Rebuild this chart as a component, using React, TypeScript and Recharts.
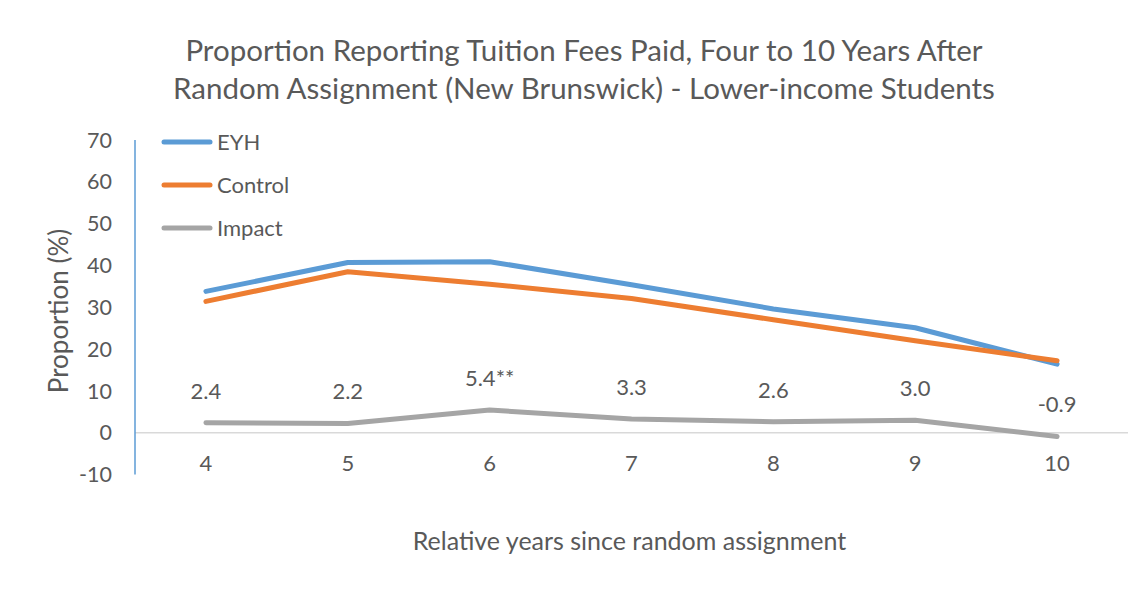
import React from 'react';
import { LineChart, Line, XAxis, YAxis, ReferenceLine, LabelList, Legend } from 'recharts';

const FONT = 'Lato, "Open Sans", sans-serif';
const TEXT = '#595959';

const years = [4, 5, 6, 7, 8, 9, 10];
const eyh = [33.8, 40.7, 40.9, 35.4, 29.6, 25.1, 16.4];
const control = [31.4, 38.5, 35.5, 32.1, 27.0, 22.0, 17.2];
const impact = [2.4, 2.2, 5.4, 3.3, 2.6, 3.0, -0.9];
const impactLabels = ['2.4', '2.2', '5.4**', '3.3', '2.6', '3.0', '-0.9'];
const yTicks = [-10, 0, 10, 20, 30, 40, 50, 60, 70];
const seriesNames = ['EYH', 'Control', 'Impact'];
const seriesColors = ['#5B9BD5', '#ED7D31', '#A5A5A5'];

const titleLines = [
  'Proportion Reporting Tuition Fees Paid, Four to 10 Years After',
  'Random Assignment (New Brunswick) - Lower-income Students',
];
const xTitle = 'Relative years since random assignment';
const yTitle = 'Proportion (%)';

const data = years.map((y, i) => ({
  year: y,
  eyh: eyh[i],
  control: control[i],
  impact: impact[i],
  impactLabel: impactLabels[i],
}));

const XTick = (props: any) => (
  <text
    x={props.x}
    y={props.y - 4}
    textAnchor="middle"
    fill={TEXT}
    fontSize={22}
    fontFamily={FONT}
  >
    {props.payload.value}
  </text>
);

const LegendContent = (props: any) => {
  const payload = [...(props.payload || [])].sort(
    (a: any, b: any) => seriesNames.indexOf(a.value) - seriesNames.indexOf(b.value)
  );
  return (
    <div style={{ fontFamily: FONT }}>
      {payload.map((p: any) => (
        <div key={p.value} style={{ display: 'flex', alignItems: 'center', height: 43 }}>
          <svg width={56} height={10} style={{ display: 'block' }}>
            <line x1={3} y1={5} x2={49} y2={5} stroke={p.color} strokeWidth={5} strokeLinecap="round" />
          </svg>
          <span style={{ fontSize: 22, color: TEXT, lineHeight: '43px' }}>{p.value}</span>
        </div>
      ))}
    </div>
  );
};

export default function App() {
  return (
    <div
      style={{
        position: 'relative',
        width: 1135,
        height: 592,
        marginLeft: -1,
        marginTop: -1,
        borderTop: '1px solid #D9D9D9',
        borderLeft: '1px solid #D9D9D9',
        background: '#fff',
        overflow: 'hidden',
        fontFamily: FONT,
      }}
    >
      <LineChart
        width={1135}
        height={592}
        data={data}
        margin={{ top: 132, right: 15, left: 0, bottom: 95.5 }}
        style={{ fontFamily: FONT }}
      >
        <XAxis
          type="number"
          dataKey="year"
          domain={[3.5, 10.5]}
          ticks={years}
          interval={0}
          axisLine={false}
          tickLine={false}
          tickSize={0}
          tickMargin={0}
          height={30}
          tick={<XTick />}
        />
        <YAxis
          type="number"
          domain={[-10, 70]}
          ticks={yTicks}
          interval={0}
          width={127}
          axisLine={{ stroke: '#5B9BD5', strokeWidth: 1.5 }}
          tickLine={false}
          tickSize={0}
          tickMargin={23}
          tick={{ fill: TEXT, fontSize: 21.5, fontFamily: FONT }}
          allowDataOverflow
        />
        <ReferenceLine y={0} stroke="#D9D9D9" strokeWidth={1.5} />
        <Legend
          layout="vertical"
          align="center"
          verticalAlign="middle"
          content={<LegendContent />}
          wrapperStyle={{ position: 'absolute', left: 153, top: 112, width: 240, height: 129 }}
        />
        <Line
          type="linear"
          dataKey="eyh"
          name={seriesNames[0]}
          stroke={seriesColors[0]}
          strokeWidth={5}
          strokeLinecap="round"
          strokeLinejoin="round"
          dot={false}
          activeDot={false}
          isAnimationActive={false}
        />
        <Line
          type="linear"
          dataKey="control"
          name={seriesNames[1]}
          stroke={seriesColors[1]}
          strokeWidth={5}
          strokeLinecap="round"
          strokeLinejoin="round"
          dot={false}
          activeDot={false}
          isAnimationActive={false}
        />
        <Line
          type="linear"
          dataKey="impact"
          name={seriesNames[2]}
          stroke={seriesColors[2]}
          strokeWidth={5}
          strokeLinecap="round"
          strokeLinejoin="round"
          dot={false}
          activeDot={false}
          isAnimationActive={false}
        >
          <LabelList
            dataKey="impactLabel"
            position="top"
            offset={24}
            fill={TEXT}
            fontSize={22}
            fontFamily={FONT}
          />
        </Line>
      </LineChart>

      <div
        style={{
          position: 'absolute',
          left: 0,
          top: 23,
          width: 1152,
          textAlign: 'center',
          fontSize: 29.5,
          lineHeight: '38px',
          color: TEXT,
          pointerEvents: 'none',
        }}
      >
        {titleLines.map((t) => (
          <div key={t}>{t}</div>
        ))}
      </div>

      <div
        style={{
          position: 'absolute',
          left: 50,
          top: 303,
          transform: 'translate(-50%, -50%) rotate(-90deg)',
          whiteSpace: 'nowrap',
          fontSize: 26,
          color: TEXT,
        }}
      >
        {yTitle}
      </div>

      <div
        style={{
          position: 'absolute',
          left: 621.5,
          top: 532,
          transform: 'translate(-50%, -50%)',
          whiteSpace: 'nowrap',
          fontSize: 25,
          color: TEXT,
        }}
      >
        {xTitle}
      </div>
    </div>
  );
}
